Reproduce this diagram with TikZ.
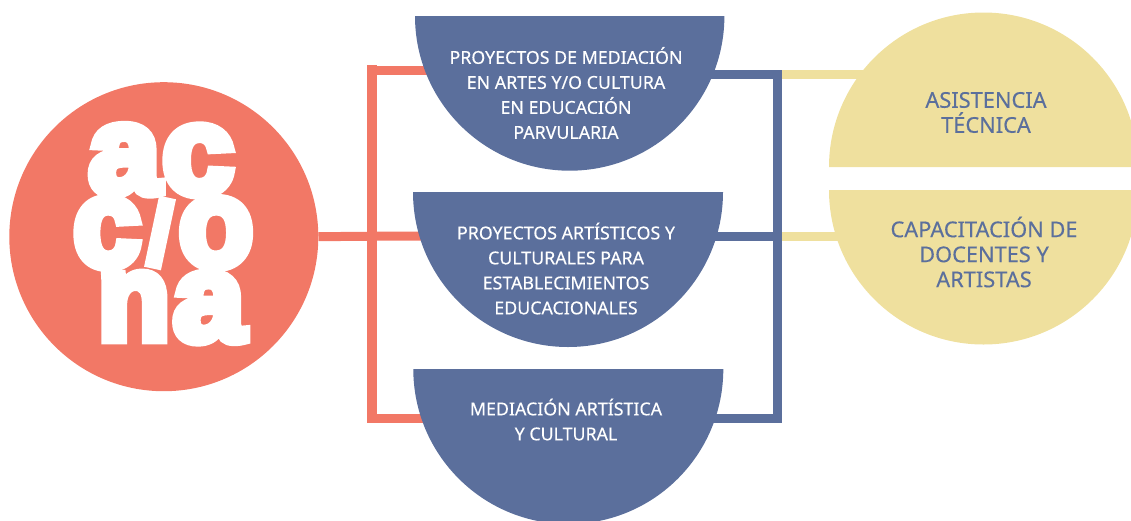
\documentclass[tikz,border=0pt]{standalone}
\usepackage{graphicx}
\usepackage{fontspec}
\setmainfont[FakeBold=0.25]{Noto Sans}
\newfontfamily\logofont[FakeBold=8]{Liberation Sans Bold}
\definecolor{salmon}{HTML}{F27866}
\definecolor{slate}{HTML}{5B6F9C}
\definecolor{sand}{HTML}{EFE09E}
\tikzset{
  redline/.style={draw=salmon,line width=9pt},
  blueline/.style={draw=slate,line width=9pt},
  sandline/.style={draw=sand,line width=9pt},
  blueshape/.style={fill=slate},
  sandshape/.style={fill=sand},
  lightlabel/.style={text=white,font=\fontsize{17.8}{25}\selectfont,align=center,inner sep=0pt},
  darklabel/.style={text=slate,font=\fontsize{21.8}{25}\selectfont,align=center,inner sep=0pt},
  logoglyph/.style={text=white,inner sep=0pt,outer sep=0pt}
}
\newcommand{\logochar}[3]{\resizebox{#1pt}{#2pt}{\logofont #3}}
\begin{document}
\begin{tikzpicture}[x=1pt,y=-1pt]
\clip (0,0) rectangle (1131,520);
% anchors
\node[circle,fill=salmon,minimum size=309pt,inner sep=0pt] (logo) at (163.8,236.7) {};
\coordinate (rtop) at (372,70.5);
\coordinate (rmid) at (372,236.2);
\coordinate (rbot) at (372,418.5);
\coordinate (rcap) at (372,65);
\coordinate (rend) at (372,423);
\coordinate (h1w) at (450,70.5);
\coordinate (h2w) at (450,236.2);
\coordinate (h3w) at (450,418.5);
\coordinate (btop) at (777.5,74.5);
\coordinate (bcap) at (777.5,70);
\coordinate (bmid) at (777.5,236.2);
\coordinate (bbot) at (777.5,418.5);
\coordinate (bend) at (777.5,423);
\coordinate (h1e) at (690,74.5);
\coordinate (h2e) at (690,236.2);
\coordinate (h3e) at (690,418.5);
\coordinate (y1) at (900,74.5);
\coordinate (y2) at (900,236.2);
% connectors
\draw[sandline] (btop) -- (y1);
\draw[sandline] (bmid) -- (y2);
\draw[redline] (logo.east) -- (rmid) -- (h2w);
\draw[redline,line width=10pt] (rcap) -- (rend);
\draw[redline] (rtop) -- (h1w);
\draw[redline] (rbot) -- (h3w);
\draw[blueline] (h1e) -- (btop);
\draw[blueline] (h2e) -- (bmid);
\draw[blueline] (h3e) -- (bbot);
\draw[blueline] (bcap) -- (bend);
% half discs
\fill[blueshape] (415,16) arc[start angle=180,end angle=0,radius=154.7] -- cycle;
\fill[blueshape] (413,192) arc[start angle=180,end angle=0,radius=155] -- cycle;
\fill[blueshape] (413.3,369) arc[start angle=180,end angle=0,radius=155] -- cycle;
\fill[sandshape] (829,167) arc[start angle=180,end angle=360,radius=154.5] -- cycle;
\fill[sandshape] (829,190) arc[start angle=180,end angle=0,radius=154.5] -- cycle;
% labels
\node[lightlabel] (p1) at (566,93) {PROYECTOS DE MEDIACIÓN\\EN ARTES Y/O CULTURA\\EN EDUCACIÓN\\PARVULARIA};
\node[lightlabel] (p2) at (566,268.5) {PROYECTOS ARTÍSTICOS Y\\CULTURALES PARA\\ESTABLECIMIENTOS\\EDUCACIONALES};
\node[lightlabel] (p3) at (566,419.5) {MEDIACIÓN ARTÍSTICA\\Y CULTURAL};
\node[darklabel] (s1) at (986,112.5) {ASISTENCIA\\TÉCNICA};
\node[darklabel] (s2) at (984,252) {CAPACITACIÓN DE\\DOCENTES Y\\ARTISTAS};
% logo
\node[logoglyph] (la1) at (124.5,160) {\logochar{71}{67}{a}};
\node[logoglyph] (lc1) at (198,160.5) {\logochar{71}{67}{c}};
\node[logoglyph] (lc2) at (107,233) {\logochar{67}{67}{c}};
\node[logoglyph] (lo) at (216,233) {\logochar{74}{67}{o}};
\node[logoglyph,rotate=-12] (li) at (160,233) {\logochar{22}{63}{ı}};
\node[logoglyph] (ln) at (134,306.5) {\logochar{72}{66}{n}};
\node[logoglyph] (la2) at (209,307.5) {\logochar{71}{67}{a}};
\end{tikzpicture}
\end{document}
